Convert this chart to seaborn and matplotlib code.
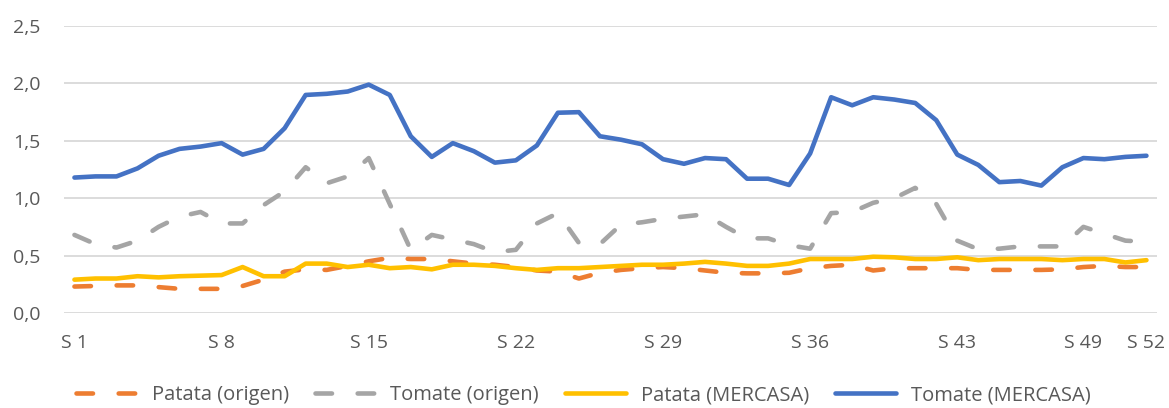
import matplotlib
matplotlib.use('Agg')
import matplotlib.pyplot as plt
import seaborn as sns
import pandas as pd

# Weekly prices (EUR/kg), weeks S 1 .. S 52
weeks = list(range(1, 53))

patata_origen = [0.23, 0.235, 0.24, 0.24, 0.225, 0.21, 0.21, 0.21, 0.235, 0.29,
                 0.36, 0.38, 0.375, 0.41, 0.45, 0.48, 0.47, 0.47, 0.45, 0.43,
                 0.42, 0.40, 0.37, 0.36, 0.30, 0.35, 0.375, 0.39, 0.40, 0.39,
                 0.37, 0.35, 0.345, 0.345, 0.35, 0.39, 0.41, 0.42, 0.37, 0.39,
                 0.39, 0.39, 0.39, 0.375, 0.375, 0.375, 0.375, 0.38, 0.40, 0.41,
                 0.40, 0.40]

tomate_origen = [0.68, 0.60, 0.57, 0.63, 0.75, 0.84, 0.88, 0.78, 0.78, 0.94,
                 1.06, 1.27, 1.13, 1.19, 1.35, 0.95, 0.55, 0.68, 0.64, 0.60,
                 0.53, 0.55, 0.78, 0.87, 0.61, 0.60, 0.77, 0.79, 0.82, 0.84,
                 0.86, 0.75, 0.65, 0.65, 0.59, 0.56, 0.87, 0.88, 0.96, 1.00,
                 1.09, 0.95, 0.63, 0.555, 0.56, 0.58, 0.58, 0.58, 0.75, 0.69,
                 0.63, 0.62]

patata_mercasa = [0.29, 0.30, 0.30, 0.32, 0.31, 0.32, 0.325, 0.33, 0.40, 0.32,
                  0.32, 0.43, 0.43, 0.40, 0.42, 0.39, 0.40, 0.38, 0.42, 0.42,
                  0.41, 0.39, 0.375, 0.39, 0.39, 0.40, 0.41, 0.42, 0.42, 0.43,
                  0.445, 0.43, 0.41, 0.41, 0.43, 0.47, 0.47, 0.47, 0.49, 0.485,
                  0.47, 0.47, 0.485, 0.46, 0.47, 0.47, 0.47, 0.46, 0.47, 0.47,
                  0.44, 0.46]

tomate_mercasa = [1.18, 1.19, 1.19, 1.26, 1.37, 1.43, 1.45, 1.48, 1.38, 1.43,
                  1.61, 1.90, 1.91, 1.93, 1.99, 1.90, 1.54, 1.36, 1.48, 1.41,
                  1.31, 1.33, 1.46, 1.745, 1.75, 1.54, 1.51, 1.47, 1.34, 1.30,
                  1.35, 1.34, 1.17, 1.17, 1.115, 1.39, 1.88, 1.81, 1.88, 1.86,
                  1.83, 1.68, 1.38, 1.29, 1.14, 1.15, 1.11, 1.27, 1.35, 1.34,
                  1.36, 1.37]

series_names = ['Patata (origen)', 'Tomate (origen)', 'Patata (MERCASA)', 'Tomate (MERCASA)']
tick_weeks = [1, 8, 15, 22, 29, 36, 43, 49, 52]
tick_labels = ['S %d' % w for w in tick_weeks]

colors = ['#ED7D31', '#A5A5A5', '#FFC000', '#4472C4']
dashed = [True, True, False, False]

sns.set_style('white')
plt.rcParams['font.family'] = ['Open Sans', 'DejaVu Sans']
text_color = '#595959'

fig = plt.figure(figsize=(11.69, 4.08), dpi=100)
ax = fig.add_axes([0.0547, 0.233, 0.935, 0.703])

data = pd.DataFrame({'week': weeks,
                     series_names[0]: patata_origen,
                     series_names[1]: tomate_origen,
                     series_names[2]: patata_mercasa,
                     series_names[3]: tomate_mercasa})

lw = 3.3
for name, color, dash in zip(series_names, colors, dashed):
    ls = (0, (3.6, 5.6)) if dash else '-'
    sns.lineplot(data=data, x='week', y=name, ax=ax, color=color, linewidth=lw,
                 linestyle=ls, dash_capstyle='round', solid_capstyle='round',
                 label=name, legend=False)

ax.set_xlim(0.5, 52.5)
ax.set_ylim(0, 2.5)
ax.set_yticks([0, 0.5, 1.0, 1.5, 2.0, 2.5])
ax.set_yticklabels([('%.1f' % v).replace('.', ',') for v in [0, 0.5, 1.0, 1.5, 2.0, 2.5]])
ax.set_xticks(tick_weeks)
ax.set_xticklabels(tick_labels)
ax.set_xlabel('')
ax.set_ylabel('')

ax.grid(axis='y', color='#D9D9D9', linewidth=1.3)
ax.set_axisbelow(True)
for s in ax.spines.values():
    s.set_visible(False)
ax.tick_params(axis='both', length=0, labelsize=14, colors=text_color)
ax.tick_params(axis='x', pad=15)
ax.tick_params(axis='y', pad=17)

handles, labels = ax.get_legend_handles_labels()
leg = fig.legend(handles, labels, loc='lower center', bbox_to_anchor=(0.499, -0.038),
                 ncol=4, frameon=False, fontsize=14.5, handlelength=3.0,
                 columnspacing=1.3, handletextpad=0.75)
for t in leg.get_texts():
    t.set_color(text_color)

fig.savefig('out.png', dpi=100)
